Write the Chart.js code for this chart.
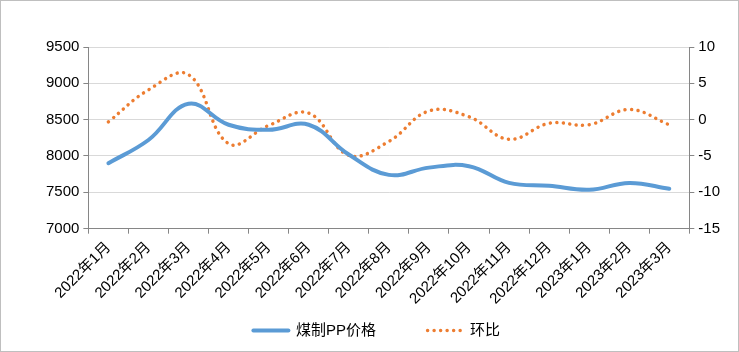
<!DOCTYPE html>
<html>
<head>
<meta charset="utf-8">
<script src="https://cdn.jsdelivr.net/npm/chart.js@4"></script>
<style>
 body { margin: 0; background: #fff; }
 #wrap { width: 737px; height: 350px; border: 1px solid #bfbfbf; position: relative; }
</style>
</head>
<body>
<div id="wrap"><canvas id="pp-canvas"></canvas></div>
<script>
// months on the x axis
var months = [
 "2022年1月", "2022年2月", "2022年3月", "2022年4月", "2022年5月",
 "2022年6月", "2022年7月", "2022年8月", "2022年9月", "2022年10月",
 "2022年11月", "2022年12月", "2023年1月", "2023年2月", "2023年3月",
];

// 煤制PP价格 (left axis)
var ppPrice = [7900, 8220, 8720, 8430, 8360, 8430, 8020, 7740, 7840, 7860, 7630, 7590, 7535, 7630, 7550];

// 环比 (right axis, %)
var momChange = [-0.3, 4.1, 6.2, -3.3, -0.8, 0.9, -4.9, -3.0, 1.2, 0.4, -2.7, -0.5, -0.7, 1.4, -0.7];

var axisColor = "#868686";
var gridColor = "#d9d9d9";

Chart.defaults.font.family = "'Liberation Sans', 'Noto Sans CJK SC', sans-serif";
Chart.defaults.font.size = 15;
Chart.defaults.color = "#000";

var ctx = document.getElementById("pp-canvas");

new Chart(ctx, {
 type: "line",
 data: {
  labels: months,
  datasets: [
   {
    label: "煤制PP价格",
    data: ppPrice,
    yAxisID: "y",
    borderColor: "#5B9BD5",
    backgroundColor: "#5B9BD5",
    borderWidth: 4,
    tension: 0.4,
    pointRadius: 0,
    borderCapStyle: "round",
   },
   {
    label: "环比",
    data: momChange,
    yAxisID: "y1",
    borderColor: "#ED7D31",
    backgroundColor: "#ED7D31",
    borderWidth: 3.5,
    borderDash: [0.01, 6.5],
    borderCapStyle: "round",
    tension: 0.4,
    pointRadius: 0,
   },
  ],
 },
 options: {
  responsive: true,
  maintainAspectRatio: false,
  animation: false,
  layout: {
   padding: { left: 41, right: 14, top: 46, bottom: 3 },
  },
  plugins: {
   legend: {
    position: "bottom",
    labels: {
     usePointStyle: true,
     pointStyle: "line",
     pointStyleWidth: 35,
     padding: 10,
     font: { size: 15 },
     generateLabels: function (chart) {
      var items = Chart.defaults.plugins.legend.labels.generateLabels(chart);
      items.forEach(function (item, i) {
       var ds = chart.data.datasets[i];
       item.lineWidth = ds.borderWidth;
       item.lineDash = ds.borderDash || [];
       item.lineCap = ds.borderCapStyle;
       item.strokeStyle = ds.borderColor;
       item.text = ds.label + (i === 0 ? "          " : "   ");
      });
      return items;
     },
    },
   },
   tooltip: { enabled: false },
  },
  scales: {
   x: {
    offset: true,
    grid: {
     offset: true,
     drawOnChartArea: false,
     tickLength: 5,
     color: axisColor,
    },
    border: { color: axisColor },
    ticks: { minRotation: 45, maxRotation: 45, padding: 5, autoSkip: false },
   },
   y: {
    position: "left",
    min: 7000,
    max: 9500,
    grid: { color: gridColor, tickColor: axisColor, tickLength: 5 },
    border: { color: axisColor },
    ticks: {
     stepSize: 500,
     padding: 4,
     callback: function (v) { return String(v); },
    },
   },
   y1: {
    position: "right",
    min: -15,
    max: 10,
    grid: { drawOnChartArea: false, color: axisColor, tickLength: 5 },
    border: { color: axisColor },
    ticks: { stepSize: 5, padding: 4 },
   },
  },
 },
});
</script>
</body>
</html>
